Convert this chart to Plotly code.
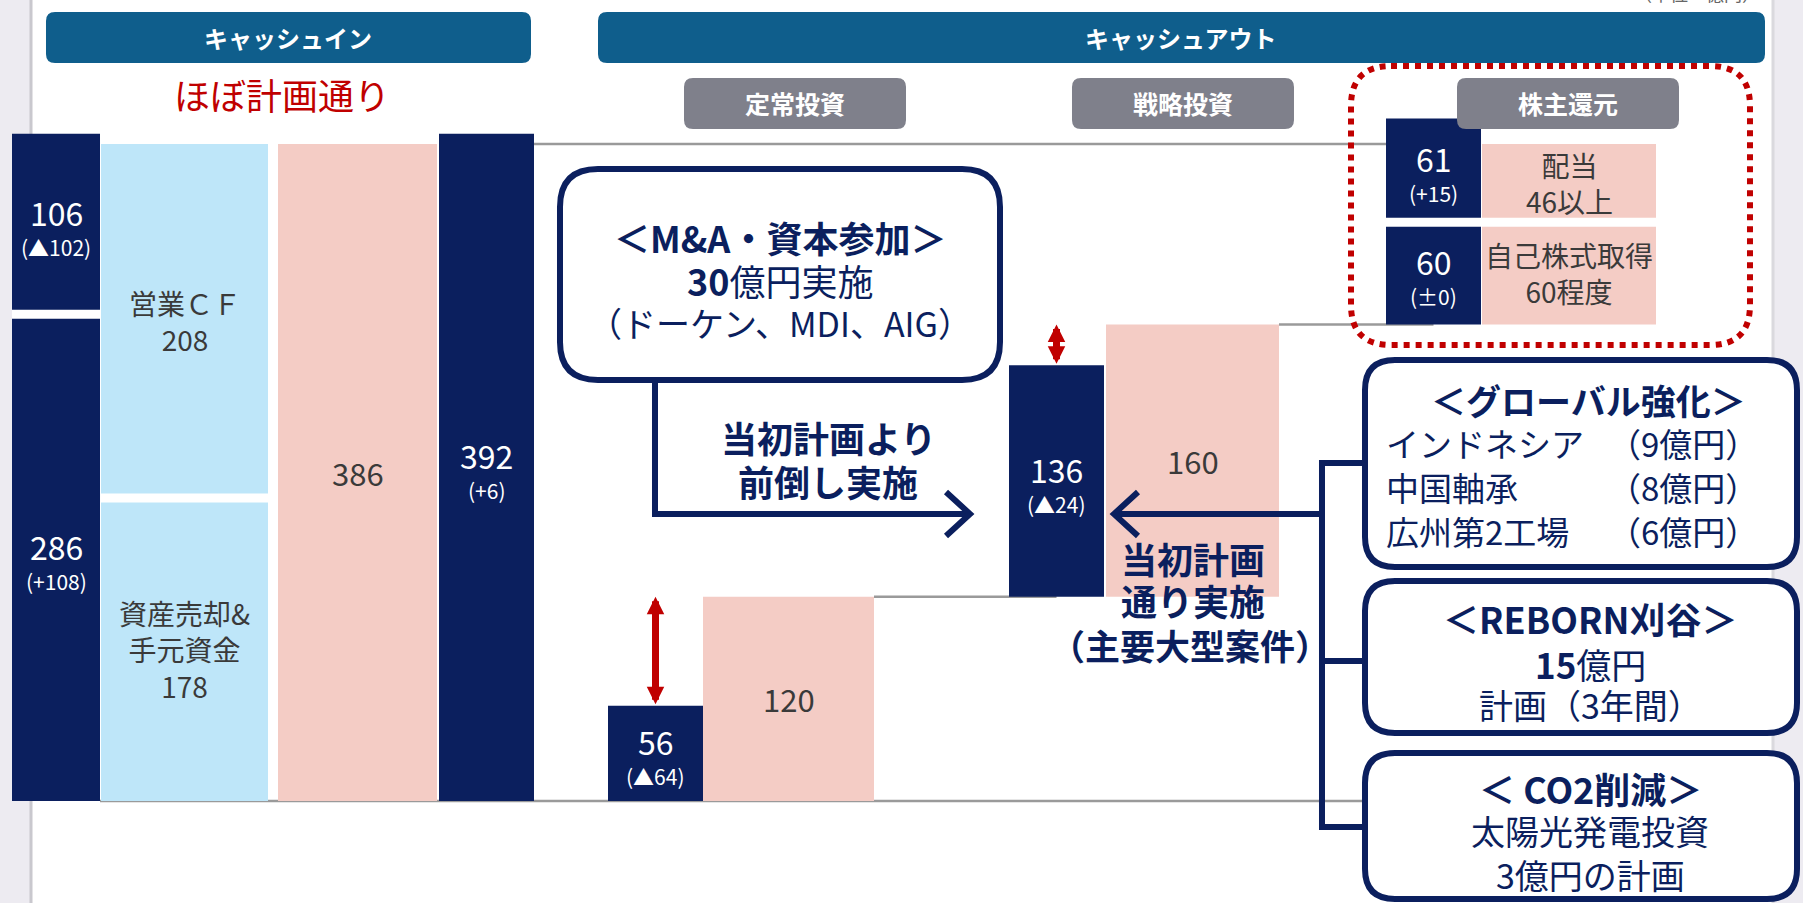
import plotly.graph_objects as go

W, H = 1803, 903

# ---- 数値 (億円) ----
in_names = ["資産売却&<br>手元資金", "営業ＣＦ"]   # 下段 → 上段
in_plan = [178, 208]
in_actual = [286, 106]
in_diff = ["+108", "▲102"]

total_plan = 386
total_actual = 392
total_diff = "+6"

out_names = ["", "", "自己株式取得", "配当"]
out_plan = [120, 160, 60, 46]
out_plan_note = ["", "", "程度", "以上"]
out_actual = [56, 136, 60, 61]
out_diff = ["▲64", "▲24", "±0", "+15"]

global_items = ["インドネシア", "中国軸承", "広州第2工場"]
global_amounts = [9, 8, 6]

NAVY = "#0B1F5E"
BLUE = "#BEE6F9"
PINK = "#F4CCC5"
HEAD = "#0F5E8C"
GRAY = "#7F808B"
RED = "#C00000"
TXT = "#3A3A3A"
FONT = "Noto Sans CJK JP"

Y0 = 801                    # baseline pixel
K = (801 - 144) / 386       # pixel per 億円


def px(x):
    return x / W


def py(y):
    return 1 - y / H


def rrect(x0, y0, x1, y1, r):
    p = lambda x, y: f"{px(x):.5f},{py(y):.5f}"
    return (f"M{p(x0 + r, y0)} L{p(x1 - r, y0)} Q{p(x1, y0)} {p(x1, y0 + r)} "
            f"L{p(x1, y1 - r)} Q{p(x1, y1)} {p(x1 - r, y1)} L{p(x0 + r, y1)} "
            f"Q{p(x0, y1)} {p(x0, y1 - r)} L{p(x0, y0 + r)} Q{p(x0, y0)} {p(x0 + r, y0)} Z")


def poly(points):
    return "M" + " L".join(f"{px(x):.5f},{py(y):.5f}" for x, y in points)


def pshape(path, **kw):
    return dict(type="path", xref="paper", yref="paper", path=path, **kw)


fig = go.Figure()

# bases (waterfall)
in_base = [0, in_plan[0]]
in_act_base = [0, in_actual[0]]
out_base = [sum(out_plan[:i]) for i in range(len(out_plan))]
out_act_base = out_base[:3] + [out_base[2] + out_actual[2]]

# columns: pixel centre / width
c_in_act, w_in_act = 56, 88
c_in_plan, w_in_plan = 184.5, 167
c_tot_plan, w_tot_plan = 357.5, 159
c_tot_act, w_tot_act = 486.5, 95
c_out_plan = [788.5, 1192.5, 1569, 1569]
w_out_plan = [171, 173, 174, 174]
c_out_act = [655.5, 1056.5, 1433.5, 1433.5]
w_act = 95

fig.add_trace(go.Bar(x=[c_in_plan] * 2, y=in_plan, base=in_base, width=w_in_plan,
                     marker=dict(color=BLUE, line_width=0)))
fig.add_trace(go.Bar(x=[c_in_act] * 2, y=in_actual, base=in_act_base, width=w_in_act,
                     marker=dict(color=NAVY, line_width=0)))
fig.add_trace(go.Bar(x=[c_tot_plan], y=[total_plan], base=[0], width=w_tot_plan,
                     marker=dict(color=PINK, line_width=0)))
fig.add_trace(go.Bar(x=[c_tot_act], y=[total_actual], base=[0], width=w_tot_act,
                     marker=dict(color=NAVY, line_width=0)))
fig.add_trace(go.Bar(x=c_out_plan, y=out_plan, base=out_base, width=w_out_plan,
                     marker=dict(color=PINK, line_width=0)))
fig.add_trace(go.Bar(x=c_out_act, y=out_actual, base=out_act_base, width=[w_act] * 4,
                     marker=dict(color=NAVY, line_width=0)))

shapes = []
# slide background
shapes.append(dict(type="rect", xref="paper", yref="paper", x0=px(31), x1=px(1773), y0=0, y1=1,
                   fillcolor="white", line_width=0, layer="below"))
shapes.append(dict(type="line", xref="paper", yref="paper", x0=px(31), x1=px(31), y0=0, y1=1,
                   line=dict(color="#C9C8CE", width=3), layer="below"))
shapes.append(dict(type="line", xref="paper", yref="paper", x0=px(1773), x1=px(1773), y0=0, y1=1,
                   line=dict(color="#DAD9DE", width=3), layer="below"))

# connector lines
conn = dict(color="#9A9A9A", width=2.5)
r120 = c_out_plan[0] + w_out_plan[0] / 2
r160 = c_out_plan[1] + w_out_plan[1] / 2
shapes += [
    dict(type="line", xref="x", yref="y", x0=100, x1=1365, y0=0, y1=0, line=conn, layer="below"),
    dict(type="line", xref="x", yref="y", x0=c_tot_act, x1=c_out_act[2], y0=total_plan, y1=total_plan,
         line=conn, layer="below"),
    dict(type="line", xref="x", yref="y", x0=r120, x1=c_out_act[1], y0=out_base[1], y1=out_base[1],
         line=conn, layer="below"),
    dict(type="line", xref="x", yref="y", x0=r160, x1=c_out_act[2], y0=out_base[2], y1=out_base[2],
         line=conn, layer="below"),
]

# white gaps between stacked blocks
gap = dict(color="white", width=9)
shapes += [
    dict(type="line", xref="x", yref="y", x0=c_in_act - w_in_act / 2, x1=c_in_act + w_in_act / 2,
         y0=in_act_base[1], y1=in_act_base[1], line=gap),
    dict(type="line", xref="x", yref="y", x0=c_in_plan - w_in_plan / 2, x1=c_in_plan + w_in_plan / 2,
         y0=in_base[1], y1=in_base[1], line=gap),
    dict(type="line", xref="x", yref="y", x0=c_out_act[3] - w_act / 2, x1=c_out_act[3] + w_act / 2,
         y0=out_act_base[3], y1=out_act_base[3], line=gap),
    dict(type="line", xref="x", yref="y", x0=c_out_plan[3] - 87, x1=c_out_plan[3] + 87,
         y0=out_base[3], y1=out_base[3], line=gap),
]

# headers
shapes.append(pshape(rrect(46, 12, 531, 63, 9), fillcolor=HEAD, line_width=0))
shapes.append(pshape(rrect(598, 12, 1765, 63, 9), fillcolor=HEAD, line_width=0))
for x0 in [684, 1072, 1457]:
    shapes.append(pshape(rrect(x0, 78, x0 + 222, 129, 9), fillcolor=GRAY, line_width=0))

# red dotted frame
shapes.append(pshape(rrect(1351, 66, 1750, 345, 40), line=dict(color=RED, width=6, dash="dot")))

# callout boxes
box_line = dict(color=NAVY, width=6)
shapes.append(pshape(rrect(560, 169, 1000, 380, 38), fillcolor="white", line=box_line))
shapes.append(pshape(rrect(1365, 360, 1797, 567, 30), fillcolor="white", line=box_line))
shapes.append(pshape(rrect(1365, 581, 1797, 733, 30), fillcolor="white", line=box_line))
shapes.append(pshape(rrect(1365, 753, 1797, 899, 30), fillcolor="white", line=box_line))

# navy arrows
shapes.append(pshape(poly([(655, 380), (655, 514), (968, 514)]), line=box_line))
shapes.append(pshape(poly([(946, 492), (970, 514), (946, 536)]), line=box_line))
shapes.append(pshape(poly([(1322, 514), (1116, 514)]), line=box_line))
shapes.append(pshape(poly([(1138, 492), (1114, 514), (1138, 536)]), line=box_line))
shapes.append(pshape(poly([(1365, 463), (1322, 463), (1322, 827), (1365, 827)]), line=box_line))
shapes.append(pshape(poly([(1322, 661), (1365, 661)]), line=box_line))

annotations = []


def txt(x, y, s, size, color=NAVY, anchor="center"):
    annotations.append(dict(x=px(x), y=py(y), xref="paper", yref="paper", text=s, showarrow=False,
                            xanchor=anchor, yanchor="middle",
                            font=dict(family=FONT, size=size, color=color)))


def bar_lbl(x, y, s, size, color, yshift=0):
    annotations.append(dict(x=x, y=y, xref="x", yref="y", text=s, showarrow=False,
                            xanchor="center", yanchor="middle", yshift=yshift,
                            font=dict(family=FONT, size=size, color=color)))


# header texts
txt(288, 37, "<b>キャッシュイン</b>", 24, "white")
txt(1181, 37, "<b>キャッシュアウト</b>", 24, "white")
for x0, s in zip([684, 1072, 1457], ["定常投資", "戦略投資", "株主還元"]):
    txt(x0 + 111, 103, f"<b>{s}</b>", 25, "white")
txt(282, 94, "ほぼ計画通り", 36, RED)
annotations.append(dict(x=px(1762), y=1, xref="paper", yref="paper", text="（単位：億円）",
                        showarrow=False, xanchor="right", yanchor="bottom", yshift=-8,
                        font=dict(family=FONT, size=18, color="#666666")))

# bar labels
for i in range(2):
    bar_lbl(c_in_plan, in_base[i] + in_plan[i] / 2, f"{in_names[i]}<br>{in_plan[i]}", 28, TXT)
    mid = in_act_base[i] + in_actual[i] / 2
    bar_lbl(c_in_act, mid, str(in_actual[i]), 32, "white", 12)
    bar_lbl(c_in_act, mid, f"({in_diff[i]})", 21, "white", -23)
bar_lbl(c_tot_plan, total_plan / 2, str(total_plan), 31, TXT)
bar_lbl(c_tot_act, total_actual / 2, str(total_actual), 32, "white", 12)
bar_lbl(c_tot_act, total_actual / 2, f"({total_diff})", 21, "white", -23)
for i in range(4):
    lab = f"{out_names[i]}<br>{out_plan[i]}{out_plan_note[i]}" if out_names[i] else str(out_plan[i])
    bar_lbl(c_out_plan[i], out_base[i] + out_plan[i] / 2, lab, 28 if out_names[i] else 31, TXT)
    mid = out_act_base[i] + out_actual[i] / 2
    bar_lbl(c_out_act[i], mid, str(out_actual[i]), 32, "white", 12)
    bar_lbl(c_out_act[i], mid, f"({out_diff[i]})", 21, "white", -23)

# red gap arrows (actual vs plan)
for i in range(2):
    annotations.append(dict(x=c_out_act[i], y=out_base[i] + out_plan[i], ax=c_out_act[i],
                            ay=out_act_base[i] + out_actual[i], xref="x", yref="y", axref="x", ayref="y",
                            text="", showarrow=True, arrowhead=2, arrowside="end+start", arrowsize=0.5,
                            arrowwidth=7, arrowcolor=RED, standoff=0, startstandoff=0))

# callout texts
txt(780, 237, "<b>＜M&A・資本参加＞</b>", 36)
txt(780, 280, "<b>30</b>億円実施", 36)
txt(780, 323, "（ドーケン、MDI、AIG）", 34)
txt(828, 437, "<b>当初計画より</b>", 36)
txt(828, 481, "<b>前倒し実施</b>", 36)
txt(1193, 558, "<b>当初計画</b>", 36)
txt(1193, 600, "<b>通り実施</b>", 36)
txt(1190, 644, "<b>（主要大型案件）</b>", 35)

txt(1588, 399, "<b>＜グローバル強化＞</b>", 35)
for k, (name, amt) in enumerate(zip(global_items, global_amounts)):
    yy = 443 + 44 * k
    txt(1384, yy, name, 33, anchor="left")
    txt(1606, yy, f"（{amt}億円）", 33, anchor="left")
txt(1590, 618, "<b>＜REBORN刈谷＞</b>", 36)
txt(1590, 663, "<b>15</b>億円", 35)
txt(1590, 704, "計画（3年間）", 34)
txt(1590, 788, "<b>＜ CO2削減＞</b>", 36)
txt(1590, 830, "太陽光発電投資", 34)
txt(1590, 874, "3億円の計画", 34)

fig.update_layout(
    width=W, height=H,
    margin=dict(l=0, r=0, t=0, b=0, pad=0),
    paper_bgcolor="#EDEBF1",
    plot_bgcolor="rgba(0,0,0,0)",
    barmode="overlay",
    showlegend=False,
    shapes=shapes,
    annotations=annotations,
    font=dict(family=FONT),
)
fig.update_xaxes(range=[0, W], visible=False, fixedrange=True)
fig.update_yaxes(range=[-(H - Y0) / K, Y0 / K], visible=False, fixedrange=True)

fig.write_html("out.html", config={"displayModeBar": False},
               post_script="document.body.style.margin='0';")
